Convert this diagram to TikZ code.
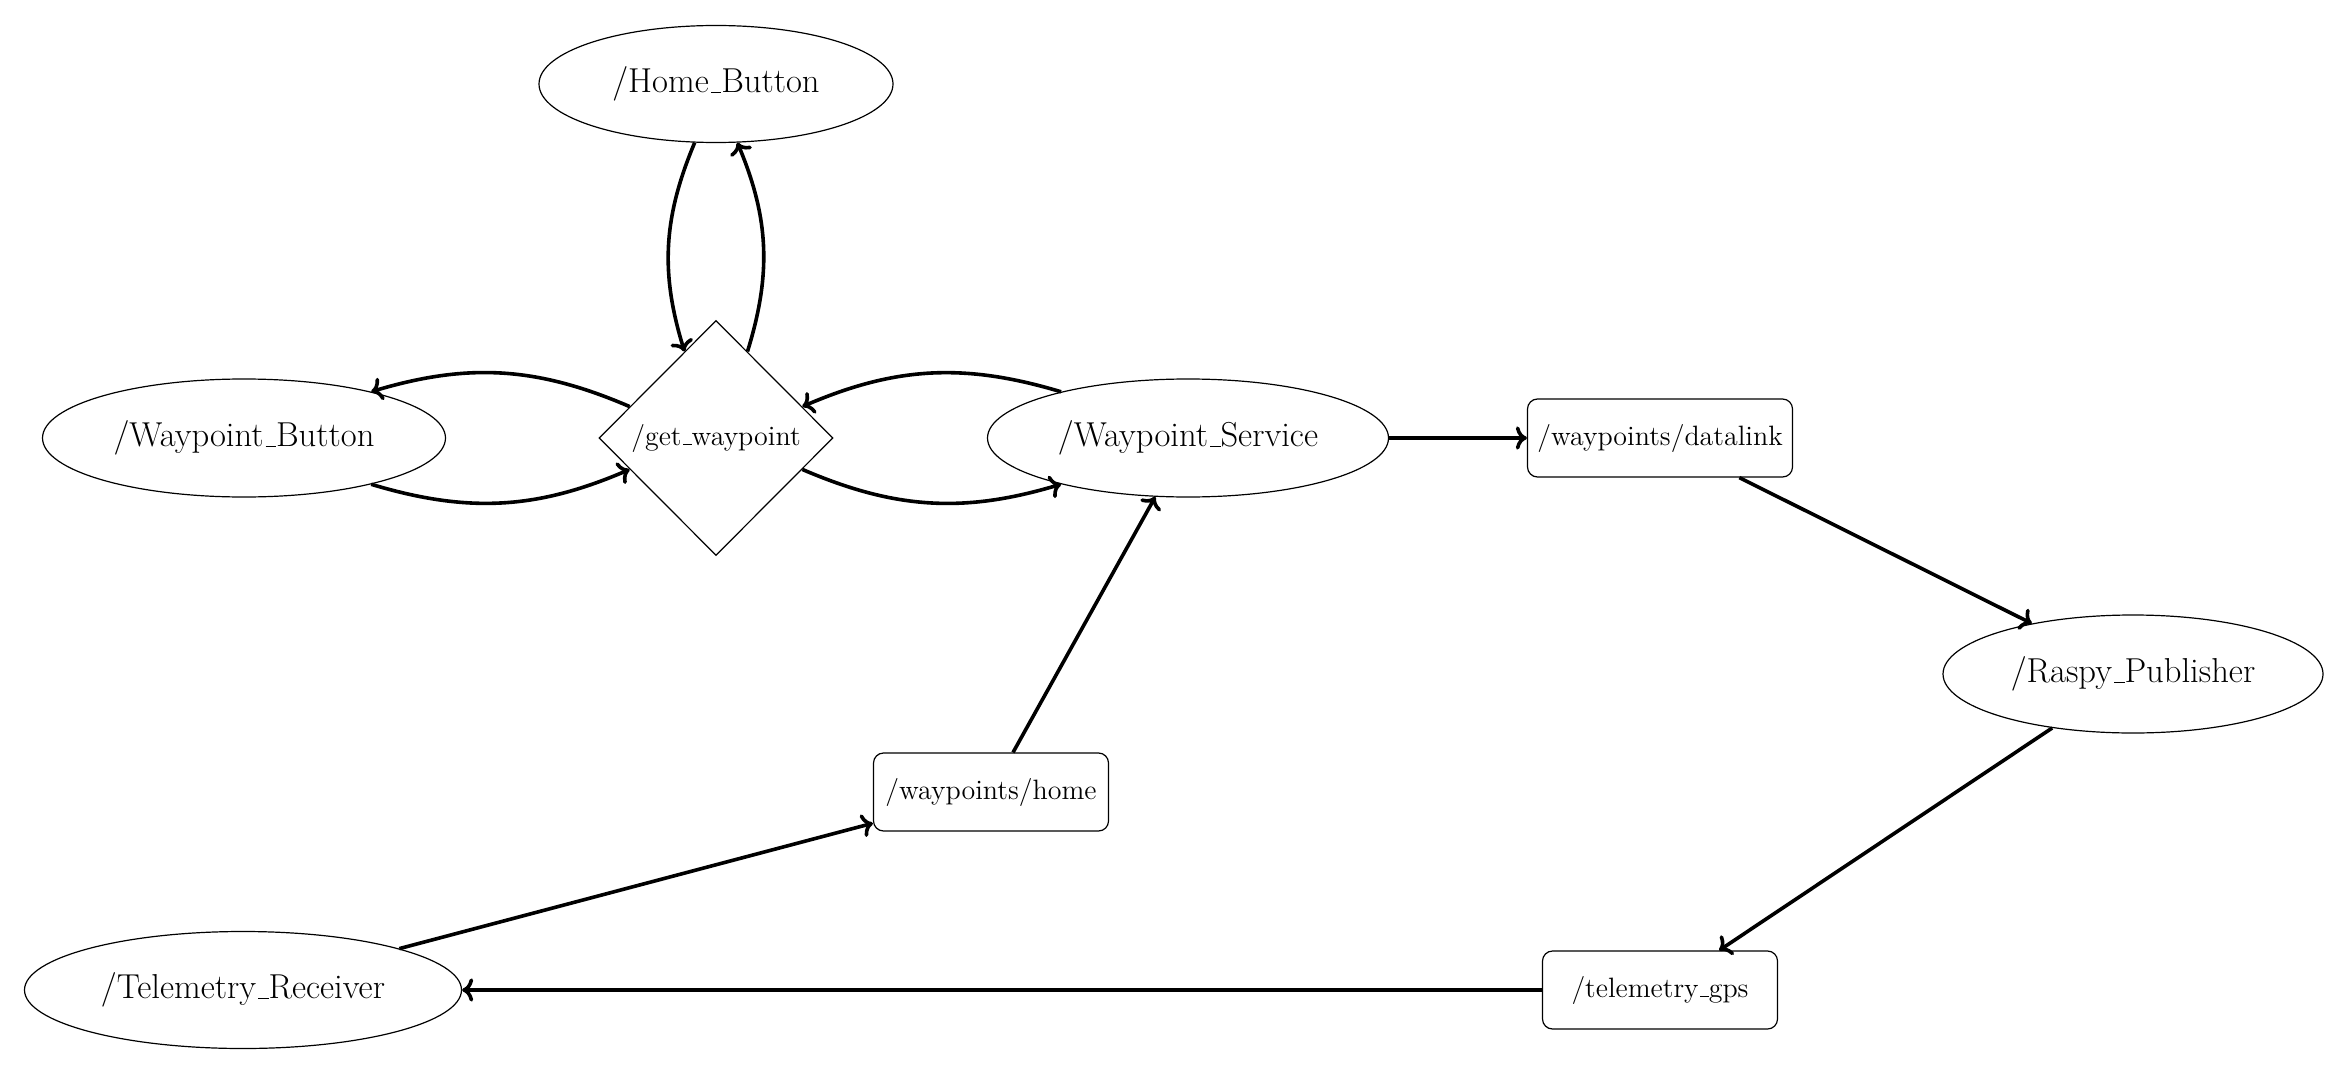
\documentclass[tikz,border=0pt]{standalone}
\usetikzlibrary{shapes.geometric,arrows.meta}
\newcommand\lowbar{\leavevmode\kern.06em\vbox{\hrule width.3em}}
\begin{document}
\begin{tikzpicture}[x=0.5pt,y=-0.5pt,
  bigfont/.style={font=\fontsize{17.3}{20}\selectfont},
  smallfont/.style={font=\fontsize{14}{17}\selectfont},
  nodeell/.style={ellipse,draw,line width=0.6pt,inner sep=0pt,bigfont},
  topicbox/.style={rectangle,rounded corners=5pt,draw,line width=0.6pt,inner sep=0pt,smallfont,minimum height=39pt},
  srvdia/.style={diamond,draw,line width=0.6pt,inner sep=0pt,smallfont,minimum width=117pt,minimum height=117.5pt},
  conn/.style={->,line width=1.8pt}]
\useasboundingbox (0,0) rectangle (2349,1075);
\node[nodeell,minimum width=177pt,minimum height=58.5pt] (home) at (716,84) {/Home\lowbar Button};
\node[nodeell,minimum width=201.5pt,minimum height=59pt] (wpbtn) at (244,438) {/Waypoint\lowbar Button};
\node[srvdia] (get) at (716,438) {/get\lowbar waypoint};
\node[nodeell,minimum width=200.5pt,minimum height=59pt] (wps) at (1188,438) {/Waypoint\lowbar Service};
\node[topicbox,minimum width=132.5pt] (dlink) at (1660,438) {/waypoints/datalink};
\node[nodeell,minimum width=190pt,minimum height=59pt] (raspy) at (2133,674) {/Raspy\lowbar Publisher};
\node[topicbox,minimum width=117.5pt] (whome) at (991,792) {/waypoints/home};
\node[nodeell,minimum width=218.5pt,minimum height=58.5pt] (recv) at (243,990) {/Telemetry\lowbar Receiver};
\node[topicbox,minimum width=117.5pt] (gps) at (1660,990) {/telemetry\lowbar gps};
\draw[conn] (home) to[bend right=20] (get);
\draw[conn] (get) to[bend right=20] (home);
\draw[conn] (get) to[bend right=20] (wpbtn);
\draw[conn] (wpbtn) to[bend right=20] (get);
\draw[conn] (wps) to[bend right=20] (get);
\draw[conn] (get) to[bend right=20] (wps);
\draw[conn] (wps) -- (dlink);
\draw[conn] (dlink) -- (raspy);
\draw[conn] (raspy) -- (gps);
\draw[conn] (gps) -- (recv);
\draw[conn] (recv) -- (whome);
\draw[conn] (whome) -- (wps);
\end{tikzpicture}
\end{document}
